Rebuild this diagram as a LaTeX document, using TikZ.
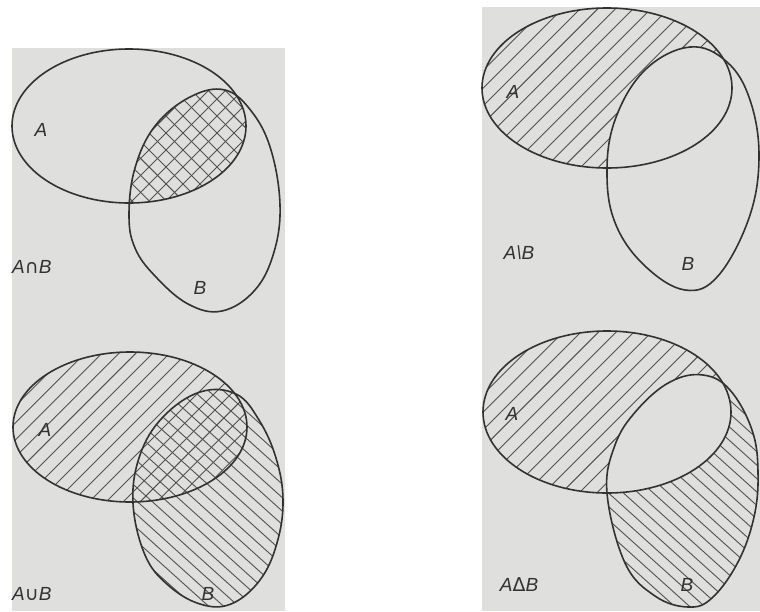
\documentclass[tikz,border=0pt]{standalone}
\usepackage{fontspec}
\setmainfont{Liberation Sans}
\newfontfamily\opsym{DejaVu Sans}
\definecolor{panel}{RGB}{223,223,221}
\definecolor{ink}{RGB}{50,50,50}
\tikzset{
  outline/.style={draw=ink, line width=1.6pt},
  hatchline/.style={draw=ink!85, line width=0.9pt},
  lbl/.style={font=\fontsize{19}{21}\selectfont, text=ink, inner sep=0pt},
}
% hatch lines: centre x, centre y, angle, spacing
\newcommand\hatchlines[4]{%
  \foreach \k in {-25,...,25}{%
    \draw[hatchline, rotate around={#3:(#1,#2)}] ({#1-260},{#2+\k*#4}) -- ++(520,0);
  }}
% shapes
\newcommand\Aone{(129,126) ellipse [x radius=117pt, y radius=77pt]}
\newcommand\Bone{plot[smooth cycle, tension=0.65] coordinates {(129,215) (135,168) (155,126) (190,97) (225,90) (252,112) (271,150) (280,205) (274,252) (255,290) (222,311) (188,304) (155,276) (135,248)}}
\newcommand\Atwo{(607,88) ellipse [x radius=125pt, y radius=80pt]}
\newcommand\Btwo{plot[smooth cycle, tension=0.65] coordinates {(607,175) (615,120) (645,70) (690,47) (727,62) (750,100) (759,157) (749,218) (718,276) (685,290) (645,266) (616,225)}}
\newcommand\Athree{(130,427) ellipse [x radius=117pt, y radius=75pt]}
\newcommand\Bthree{plot[smooth cycle, tension=0.65] coordinates {(133,503) (140,455) (163,417) (200,392) (236,394) (259,420) (276,458) (283,500) (277,543) (260,580) (231,604) (200,604) (168,585) (145,555)}}
\newcommand\Afour{(607,412) ellipse [x radius=124pt, y radius=81pt]}
\newcommand\Bfour{plot[smooth cycle, tension=0.65] coordinates {(607,493) (615,445) (637,410) (670,382) (703,375) (730,390) (752,430) (758,472) (754,517) (738,562) (712,598) (688,607) (655,596) (625,563)}}
\begin{document}
\begin{tikzpicture}[x=1pt,y=-1pt]
\useasboundingbox (0,0) rectangle (760,611);
\fill[white] (0,0) rectangle (760,611);
% panels
\fill[panel] (12,48) rectangle (285,611);
\fill[panel] (482,7) rectangle (760,611);

% ---------- top left: A cap B ----------
\begin{scope}
  \clip \Aone;
  \clip \Bone;
  \hatchlines{200}{150}{45}{12}
  \hatchlines{200}{150}{-45}{12}
\end{scope}
\draw[outline] \Aone;
\draw[outline] \Bone;
\node[lbl] (tlA) at (41,130) {\itshape A};
\node[lbl] (tlB) at (200,288) {\itshape B};
\node[lbl, anchor=west] (tlop) at (12,267) {{\itshape A}{\opsym ∩}{\itshape B}};

% ---------- top right: A \ B ----------
\begin{scope}
  \clip \Atwo;
  \hatchlines{607}{88}{45}{12.5}
  \fill[panel] \Btwo;
\end{scope}
\draw[outline] \Atwo;
\draw[outline] \Btwo;
\node[lbl] (trA) at (513,92) {\itshape A};
\node[lbl] (trB) at (688,264) {\itshape B};
\node[lbl] (trop) at (519,253) {\itshape A\textbackslash B};

% ---------- bottom left: A cup B ----------
\begin{scope}
  \clip \Athree;
  \hatchlines{130}{427}{45}{12}
\end{scope}
\begin{scope}
  \clip \Bthree;
  \hatchlines{208}{498}{-42}{10}
\end{scope}
\draw[outline] \Athree;
\draw[outline] \Bthree;
\node[lbl] (blA) at (45,430) {\itshape A};
\node[lbl] (blB) at (208,594) {\itshape B};
\node[lbl, anchor=west] (blop) at (12,594) {{\itshape A}{\opsym ∪}{\itshape B}};

% ---------- bottom right: A Delta B ----------
\begin{scope}
  \clip \Afour;
  \hatchlines{607}{412}{45}{12.5}
\end{scope}
\begin{scope}
  \clip \Bfour;
  \hatchlines{681}{491}{-42}{10}
\end{scope}
\begin{scope}
  \clip \Afour;
  \fill[panel] \Bfour;
\end{scope}
\draw[outline] \Afour;
\draw[outline] \Bfour;
\node[lbl] (brA) at (512,414) {\itshape A};
\node[lbl] (brB) at (687,585) {\itshape B};
\node[lbl] (brop) at (519,585) {{\itshape A}{\opsym Δ}{\itshape B}};
\end{tikzpicture}
\end{document}
